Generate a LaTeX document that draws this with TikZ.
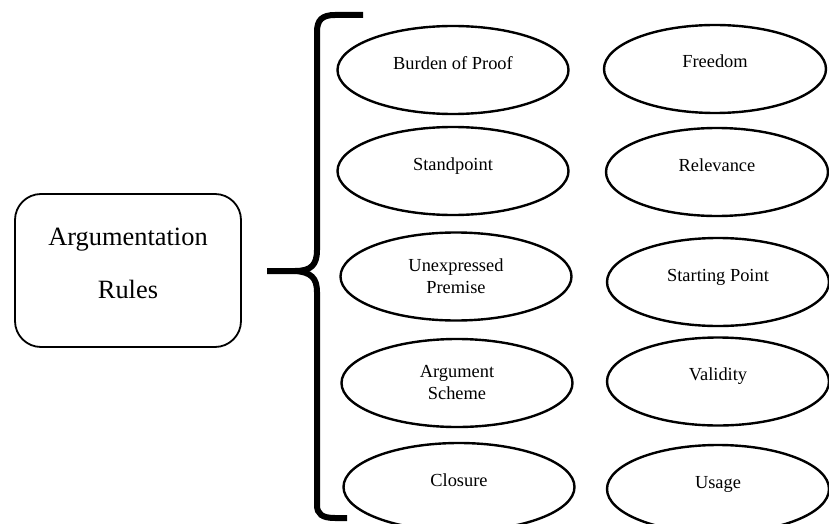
\documentclass[tikz,border=0pt]{standalone}
\usepackage{fontspec}
\setmainfont{Liberation Serif}
\usepackage{tikz}
\usetikzlibrary{shapes, positioning, calc}

\begin{document}
\begin{tikzpicture}[x=0.5pt, y=-0.5pt,
    rulebox/.style={draw, rectangle, rounded corners=13pt, line width=0.9pt,
      minimum width=113pt, minimum height=76.5pt, inner sep=0pt, align=center,
      font=\fontsize{13.2}{26.5}\selectfont},
    rulenode/.style={draw, ellipse, line width=1.2pt, inner sep=0pt,
      minimum height=44pt, align=center, font=\fontsize{9.2}{11}\selectfont},
    rulel/.style={rulenode, minimum width=115.5pt},
    ruler/.style={rulenode, minimum width=111pt},
    oneline/.style={text height=7pt, text depth=8pt},
    brace/.style={line width=3pt}]
  \useasboundingbox (0,0) rectangle (829,524);

  \node[rulebox, text depth=7pt] (rules) at (128,270.5) {Argumentation\\Rules};

  \node[rulel, oneline] (burden) at (453,70) {Burden of Proof};
  \node[rulel, oneline] (standpoint) at (453,171) {Standpoint};
  \node[rulel] (premise) at (456,276.5) {Unexpressed\\Premise};
  \node[rulel] (scheme) at (457,383) {Argument\\Scheme};
  \node[rulel, oneline] (closure) at (459,487) {Closure};

  \node[ruler, oneline] (freedom) at (715,69) {Freedom};
  \node[ruler, oneline] (relevance) at (717,172) {Relevance};
  \node[ruler, oneline] (starting) at (718,282) {Starting Point};
  \node[ruler, oneline] (validity) at (718,381.5) {Validity};
  \node[ruler, oneline] (usage) at (718,489) {Usage};

  \coordinate (tip) at (267,271);
  \draw[brace] (363,15) -- (335,15) .. controls (322,15) and (317,20) .. (317,32)
    -- (317,250) .. controls (317,265) and (311,271) .. (295,271) -- (tip);
  \draw[brace] (295,271) .. controls (311,272) and (317,278) .. (317,292)
    -- (317,505) .. controls (317,514) and (322,518) .. (335,518) -- (347,518);
\end{tikzpicture}
\end{document}
